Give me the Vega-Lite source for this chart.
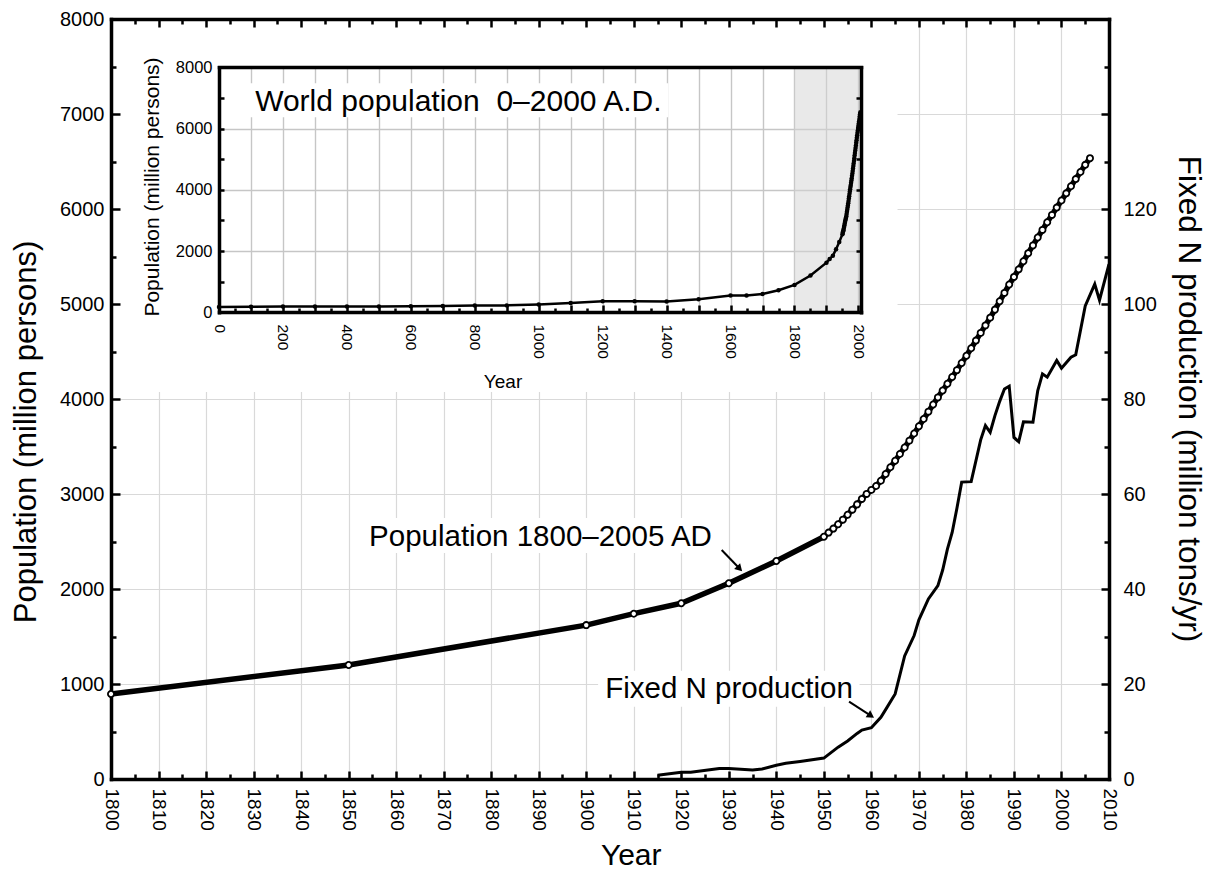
{
  "$schema": "https://vega.github.io/schema/vega-lite/v6.json",
  "width": 998,
  "height": 760,
  "autosize": {"type": "none"},
  "padding": {"left": 111, "top": 19, "right": 102, "bottom": 91},
  "background": "white",
  "config": {
    "font": "Liberation Sans",
    "view": {"stroke": null},
    "axis": {
      "domainColor": "black", "domainWidth": 3.5, "domainCap": "square",
      "tickColor": "black", "tickWidth": 2.5,
      "labelColor": "black", "titleColor": "black", "titleFontWeight": "normal",
      "gridColor": "#d9d9d9", "gridWidth": 1.2,
      "labelFlush": false, "labelOverlap": false, "labelBound": false,
      "labelFont": "Liberation Sans", "titleFont": "Liberation Sans"
    }
  },
  "datasets": {
    "pop": [
      {"year":0,"pop":170},{"year":100,"pop":180},{"year":200,"pop":190},{"year":300,"pop":190},{"year":400,"pop":190},{"year":500,"pop":190},{"year":600,"pop":200},{"year":700,"pop":207},{"year":800,"pop":220},{"year":900,"pop":226},{"year":1000,"pop":254},{"year":1100,"pop":301},{"year":1200,"pop":360},{"year":1300,"pop":360},{"year":1400,"pop":350},{"year":1500,"pop":425},{"year":1600,"pop":545},{"year":1650,"pop":545},{"year":1700,"pop":600},{"year":1750,"pop":720},
      {"year":1800,"pop":895},{"year":1850,"pop":1200},{"year":1900,"pop":1620},{"year":1910,"pop":1740},{"year":1920,"pop":1850},{"year":1930,"pop":2060},{"year":1940,"pop":2295},{"year":1950,"pop":2550},
      {"year":1951,"pop":2594},{"year":1952,"pop":2636},{"year":1953,"pop":2682},{"year":1954,"pop":2730},{"year":1955,"pop":2782},{"year":1956,"pop":2835},{"year":1957,"pop":2891},{"year":1958,"pop":2948},{"year":1959,"pop":3001},{"year":1960,"pop":3043},
      {"year":1961,"pop":3084},{"year":1962,"pop":3140},{"year":1963,"pop":3210},{"year":1964,"pop":3281},{"year":1965,"pop":3350},{"year":1966,"pop":3421},{"year":1967,"pop":3490},{"year":1968,"pop":3562},{"year":1969,"pop":3637},{"year":1970,"pop":3713},
      {"year":1971,"pop":3790},{"year":1972,"pop":3867},{"year":1973,"pop":3942},{"year":1974,"pop":4017},{"year":1975,"pop":4089},{"year":1976,"pop":4160},{"year":1977,"pop":4232},{"year":1978,"pop":4304},{"year":1979,"pop":4379},{"year":1980,"pop":4455},
      {"year":1981,"pop":4534},{"year":1982,"pop":4615},{"year":1983,"pop":4696},{"year":1984,"pop":4775},{"year":1985,"pop":4856},{"year":1986,"pop":4941},{"year":1987,"pop":5029},{"year":1988,"pop":5117},{"year":1989,"pop":5205},{"year":1990,"pop":5285},
      {"year":1991,"pop":5365},{"year":1992,"pop":5450},{"year":1993,"pop":5535},{"year":1994,"pop":5617},{"year":1995,"pop":5700},{"year":1996,"pop":5780},{"year":1997,"pop":5860},{"year":1998,"pop":5938},{"year":1999,"pop":6015},{"year":2000,"pop":6090},
      {"year":2001,"pop":6165},{"year":2002,"pop":6240},{"year":2003,"pop":6315},{"year":2004,"pop":6390},{"year":2005,"pop":6465},{"year":2006,"pop":6535}
    ],
    "nprod": [
      {"year":1915,"n":0.8},{"year":1920,"n":1.4},{"year":1922,"n":1.4},{"year":1928,"n":2.2},{"year":1930,"n":2.2},{"year":1935,"n":1.9},{"year":1937,"n":2.1},{"year":1940,"n":2.9},{"year":1942,"n":3.3},{"year":1945,"n":3.7},
      {"year":1950,"n":4.4},{"year":1953,"n":6.7},{"year":1955,"n":8.0},{"year":1957,"n":9.6},{"year":1958,"n":10.3},{"year":1960,"n":10.8},{"year":1962,"n":13.0},{"year":1963,"n":14.6},{"year":1965,"n":17.9},{"year":1967,"n":25.9},
      {"year":1969,"n":30.2},{"year":1970,"n":33.5},{"year":1972,"n":37.9},{"year":1974,"n":40.7},{"year":1975,"n":44.0},{"year":1976,"n":48.4},{"year":1977,"n":51.9},{"year":1978,"n":57.0},{"year":1979,"n":62.5},{"year":1981,"n":62.6},
      {"year":1983,"n":71.4},{"year":1984,"n":74.4},{"year":1985,"n":73.0},{"year":1986,"n":76.5},{"year":1987,"n":79.5},{"year":1988,"n":82.1},{"year":1989,"n":82.7},{"year":1990,"n":71.9},{"year":1991,"n":71.0},{"year":1992,"n":75.2},
      {"year":1994,"n":75.1},{"year":1995,"n":81.7},{"year":1996,"n":85.3},{"year":1997,"n":84.6},{"year":1999,"n":88.1},{"year":2000,"n":86.5},{"year":2002,"n":88.8},{"year":2003,"n":89.3},{"year":2005,"n":99.6},{"year":2007,"n":104.2},
      {"year":2008,"n":100.8},{"year":2010,"n":108.4}
    ]
  },
  "resolve": {"scale": {"x": "independent", "y": "independent"}, "axis": {"x": "independent", "y": "independent"}},
  "layer": [
    {
      "data": {"name": "pop"},
      "transform": [{"filter": "datum.year >= 1800"}],
      "mark": {"type": "line", "color": "black", "strokeWidth": 5.5, "strokeJoin": "round"},
      "encoding": {
        "x": {"field": "year", "type": "quantitative",
          "scale": {"domain": [1800, 2010], "nice": false, "zero": false},
          "axis": {"orient": "top", "zindex": 0,
            "values": [1800,1805,1810,1815,1820,1825,1830,1835,1840,1845,1850,1855,1860,1865,1870,1875,1880,1885,1890,1895,1900,1905,1910,1915,1920,1925,1930,1935,1940,1945,1950,1955,1960,1965,1970,1975,1980,1985,1990,1995,2000,2005,2010],
            "labels": false, "title": null,
            "tickSize": {"condition": {"test": "datum.value % 10 === 0", "value": -8}, "value": -5},
            "grid": true,
            "gridOpacity": {"condition": {"test": "datum.value % 10 === 0 && datum.value > 1800 && datum.value <= 1960", "value": 1}, "value": 0}}},
        "y": {"field": "pop", "type": "quantitative",
          "scale": {"domain": [0, 4080], "range": [760, 372.4], "nice": false, "zero": false},
          "axis": {"orient": "left", "values": [1000, 2000, 3000, 4000], "grid": true, "ticks": false, "labels": false, "domain": false, "title": null, "zindex": 0}}
      }
    },
    {
      "data": {"name": "nprod"},
      "mark": {"type": "line", "color": "black", "strokeWidth": 3, "strokeJoin": "miter"},
      "encoding": {
        "x": {"field": "year", "type": "quantitative",
          "scale": {"domain": [1965.4, 2010], "range": [786.04, 998], "nice": false, "zero": false},
          "axis": {"orient": "top", "values": [1970, 1980, 1990, 2000], "grid": true, "ticks": false, "labels": false, "domain": false, "title": null, "zindex": 0}},
        "y": {"field": "n", "type": "quantitative",
          "scale": {"domain": [0, 160], "nice": false, "zero": false},
          "axis": {"orient": "left", "values": [100, 120, 140], "grid": true, "ticks": false, "labels": false, "domain": false, "title": null, "zindex": 0}}
      }
    },
    {
      "data": {"values": [
        {"x1": 1853, "x2": 1928, "y1": 2379, "y2": 2747},
        {"x1": 1902.5, "x2": 1957.5, "y1": 760, "y2": 1140}
      ]},
      "mark": {"type": "rect", "fill": "white"},
      "encoding": {
        "x": {"field": "x1", "type": "quantitative", "scale": {"domain": [1800, 2010], "nice": false, "zero": false}, "axis": null},
        "x2": {"field": "x2"},
        "y": {"field": "y1", "type": "quantitative", "scale": {"domain": [0, 8000], "nice": false, "zero": false}, "axis": null},
        "y2": {"field": "y2"}
      }
    },
    {
      "data": {"name": "pop"},
      "transform": [{"filter": "datum.year >= 1800"}],
      "mark": {"type": "point", "shape": "circle", "filled": true, "fill": "white", "stroke": "black", "strokeWidth": 1.8, "size": 38, "opacity": 1},
      "encoding": {
        "x": {"field": "year", "type": "quantitative",
          "scale": {"domain": [1800, 2010], "nice": false, "zero": false},
          "axis": {"orient": "bottom", "zindex": 0,
            "values": [1800,1805,1810,1815,1820,1825,1830,1835,1840,1845,1850,1855,1860,1865,1870,1875,1880,1885,1890,1895,1900,1905,1910,1915,1920,1925,1930,1935,1940,1945,1950,1955,1960,1965,1970,1975,1980,1985,1990,1995,2000,2005,2010],
            "format": "d",
            "labelExpr": "datum.value % 10 === 0 ? datum.label : ''",
            "labelAngle": 90, "labelAlign": "left", "labelBaseline": "middle",
            "labelFontSize": 19, "labelPadding": 17,
            "tickSize": {"condition": {"test": "datum.value % 10 === 0", "value": -8}, "value": -5},
            "grid": false,
            "title": "Year", "titleFontSize": 30, "titleX": 519.7, "titleY": 85, "titleBaseline": "alphabetic"}},
        "y": {"field": "pop", "type": "quantitative",
          "scale": {"domain": [0, 8000], "nice": false, "zero": false},
          "axis": {"orient": "left", "zindex": 0,
            "values": [0,500,1000,1500,2000,2500,3000,3500,4000,4500,5000,5500,6000,6500,7000,7500,8000],
            "format": "d",
            "labelExpr": "datum.value % 1000 === 0 ? datum.label : ''",
            "labelFontSize": 20, "labelPadding": 16,
            "tickSize": {"condition": {"test": "datum.value % 1000 === 0", "value": -9}, "value": -5},
            "grid": false,
            "title": "Population (million persons)", "titleFontSize": 31, "titleAngle": 270,
            "titleX": -75.5, "titleY": 412.5, "titleBaseline": "alphabetic"}}
      }
    },
    {
      "data": {"values": [
        {"x": 1854.3, "y": 2456, "label": "Population 1800–2005 AD"}
      ]},
      "mark": {"type": "text", "align": "left", "baseline": "alphabetic", "fontSize": 29.5, "font": "Liberation Sans", "color": "black"},
      "encoding": {
        "x": {"field": "x", "type": "quantitative", "scale": {"domain": [1800, 2010], "nice": false, "zero": false}, "axis": null},
        "y": {"field": "y", "type": "quantitative", "scale": {"domain": [0, 8000], "nice": false, "zero": false}, "axis": null},
        "text": {"field": "label"}
      }
    },
    {
      "data": {"values": [
        {"x": 1904.0, "n": 17.06, "label": "Fixed N production"}
      ]},
      "mark": {"type": "text", "align": "left", "baseline": "alphabetic", "fontSize": 29.5, "font": "Liberation Sans", "color": "black"},
      "encoding": {
        "x": {"field": "x", "type": "quantitative", "scale": {"domain": [1800, 2010], "nice": false, "zero": false}, "axis": null},
        "y": {"field": "n", "type": "quantitative",
          "scale": {"domain": [0, 160], "nice": false, "zero": false},
          "axis": {"orient": "right", "zindex": 0,
            "values": [0,10,20,30,40,50,60,70,80,90,100,110,120,130,140,150,160],
            "labelExpr": "datum.value % 20 === 0 && datum.value <= 120 ? datum.label : ''",
            "labelFontSize": 20, "labelPadding": 22,
            "tickSize": {"condition": {"test": "datum.value % 20 === 0", "value": -8}, "value": -5},
            "grid": false,
            "title": "Fixed N production (million tons/yr)", "titleFontSize": 31.5, "titleAngle": 90,
            "titleX": 69.5, "titleY": 379.5, "titleBaseline": "alphabetic"}},
        "text": {"field": "label"}
      }
    },
    {
      "data": {"values": [
        {"x1": 1928.5, "y1": 2410, "x2": 1932.1, "y2": 2223},
        {"x1": 1955.3, "y1": 814, "x2": 1959.7, "y2": 673}
      ]},
      "mark": {"type": "rule", "color": "black", "strokeWidth": 2},
      "encoding": {
        "x": {"field": "x1", "type": "quantitative", "scale": {"domain": [1800, 2010], "nice": false, "zero": false}, "axis": null},
        "x2": {"field": "x2"},
        "y": {"field": "y1", "type": "quantitative", "scale": {"domain": [0, 8000], "nice": false, "zero": false}, "axis": null},
        "y2": {"field": "y2"}
      }
    },
    {
      "data": {"values": [{"x": 1932.1, "y": 2223}]},
      "mark": {"type": "point", "shape": "triangle", "filled": true, "color": "black", "size": 70, "angle": 136, "opacity": 1},
      "encoding": {
        "x": {"field": "x", "type": "quantitative", "scale": {"domain": [1800, 2010], "nice": false, "zero": false}, "axis": null},
        "y": {"field": "y", "type": "quantitative", "scale": {"domain": [0, 8000], "nice": false, "zero": false}, "axis": null}
      }
    },
    {
      "data": {"values": [{"x": 1959.7, "y": 673}]},
      "mark": {"type": "point", "shape": "triangle", "filled": true, "color": "black", "size": 70, "angle": 123, "opacity": 1},
      "encoding": {
        "x": {"field": "x", "type": "quantitative", "scale": {"domain": [1800, 2010], "nice": false, "zero": false}, "axis": null},
        "y": {"field": "y", "type": "quantitative", "scale": {"domain": [0, 8000], "nice": false, "zero": false}, "axis": null}
      }
    },
    {
      "data": {"values": [{"x1": 1800, "x2": 2008, "y1": 0, "y2": 8000}]},
      "mark": {"type": "rect", "fill": "#d4d4d4", "opacity": 0.5},
      "encoding": {
        "x": {"field": "x1", "type": "quantitative",
          "scale": {"domain": [0, 2008], "range": [108, 750], "nice": false, "zero": false},
          "axis": {"orient": "top", "values": [100,200,300,400,500,600,700,800,900,1000,1100,1200,1300,1400,1500,1600,1700,1800,1900,2000], "grid": true, "gridColor": "#c6c6c6", "gridWidth": 1.4, "ticks": false, "labels": false, "domain": false, "title": null, "zindex": 0}},
        "x2": {"field": "x2"},
        "y": {"field": "y1", "type": "quantitative",
          "scale": {"domain": [0, 8000], "range": [293.3, 48.3], "nice": false, "zero": false},
          "axis": {"orient": "left", "values": [2000, 4000, 6000], "grid": true, "gridColor": "#c6c6c6", "gridWidth": 1.4, "ticks": false, "labels": false, "domain": false, "title": null, "zindex": 0}},
        "y2": {"field": "y2"}
      }
    },
    {
      "data": {"values": [{"x1": 80, "x2": 1405, "y1": 6367, "y2": 7477}]},
      "mark": {"type": "rect", "fill": "white"},
      "encoding": {
        "x": {"field": "x1", "type": "quantitative",
          "scale": {"domain": [0, 2008], "range": [108, 750], "nice": false, "zero": false},
          "axis": {"orient": "bottom", "offset": -467, "zindex": 1,
            "values": [0,50,100,150,200,250,300,350,400,450,500,550,600,650,700,750,800,850,900,950,1000,1050,1100,1150,1200,1250,1300,1350,1400,1450,1500,1550,1600,1650,1700,1750,1800,1850,1900,1950,2000],
            "format": "d",
            "labelExpr": "datum.value % 200 === 0 ? datum.label : ''",
            "labelAngle": 90, "labelAlign": "left", "labelBaseline": "middle",
            "labelFontSize": 15.5, "labelPadding": 19,
            "tickSize": {"condition": {"test": "datum.value % 100 === 0", "value": -7}, "value": -4},
            "grid": false,
            "title": "Year", "titleFontSize": 19, "titleX": 391.5, "titleY": 75, "titleBaseline": "alphabetic"}},
        "x2": {"field": "x2"},
        "y": {"field": "y1", "type": "quantitative",
          "scale": {"domain": [0, 8000], "range": [293.3, 48.3], "nice": false, "zero": false},
          "axis": {"orient": "left", "offset": -108, "zindex": 1,
            "values": [0,1000,2000,3000,4000,5000,6000,7000,8000],
            "format": "d",
            "labelExpr": "datum.value % 2000 === 0 ? datum.label : ''",
            "labelFontSize": 16.5, "labelPadding": 12, "tickSize": -5,
            "grid": false,
            "title": "Population (million persons)", "titleFontSize": 21, "titleAngle": 270,
            "titleX": -60.4, "titleY": 167.5, "titleBaseline": "alphabetic"}},
        "y2": {"field": "y2"}
      }
    },
    {
      "data": {"values": [{"x": 113, "y": 6573, "label": "World population\u00a0 0–2000 A.D."}]},
      "mark": {"type": "text", "align": "left", "baseline": "alphabetic", "fontSize": 30, "font": "Liberation Sans", "color": "black"},
      "encoding": {
        "x": {"field": "x", "type": "quantitative", "scale": {"domain": [0, 2008], "range": [108, 750], "nice": false, "zero": false}, "axis": null},
        "y": {"field": "y", "type": "quantitative", "scale": {"domain": [0, 8000], "range": [293.3, 48.3], "nice": false, "zero": false}, "axis": null},
        "text": {"field": "label"}
      }
    },
    {
      "data": {"name": "pop"},
      "mark": {"type": "line", "color": "black", "strokeWidth": 2.5},
      "encoding": {
        "x": {"field": "year", "type": "quantitative",
          "scale": {"domain": [0, 2008], "range": [108, 750], "nice": false, "zero": false},
          "axis": {"orient": "top", "offset": -48, "zindex": 1, "ticks": false, "labels": false, "grid": false, "title": null}},
        "y": {"field": "pop", "type": "quantitative",
          "scale": {"domain": [0, 8000], "range": [293.3, 48.3], "nice": false, "zero": false},
          "axis": {"orient": "right", "offset": -248, "zindex": 1, "values": [1000,2000,3000,4000,5000,6000,7000], "tickSize": -5, "labels": false, "grid": false, "title": null}}
      }
    },
    {
      "data": {"name": "pop"},
      "mark": {"type": "point", "shape": "circle", "filled": true, "color": "black", "size": 20, "opacity": 1},
      "encoding": {
        "x": {"field": "year", "type": "quantitative", "scale": {"domain": [0, 2008], "range": [108, 750], "nice": false, "zero": false}, "axis": null},
        "y": {"field": "pop", "type": "quantitative", "scale": {"domain": [0, 8000], "range": [293.3, 48.3], "nice": false, "zero": false}, "axis": null}
      }
    }
  ]
}
